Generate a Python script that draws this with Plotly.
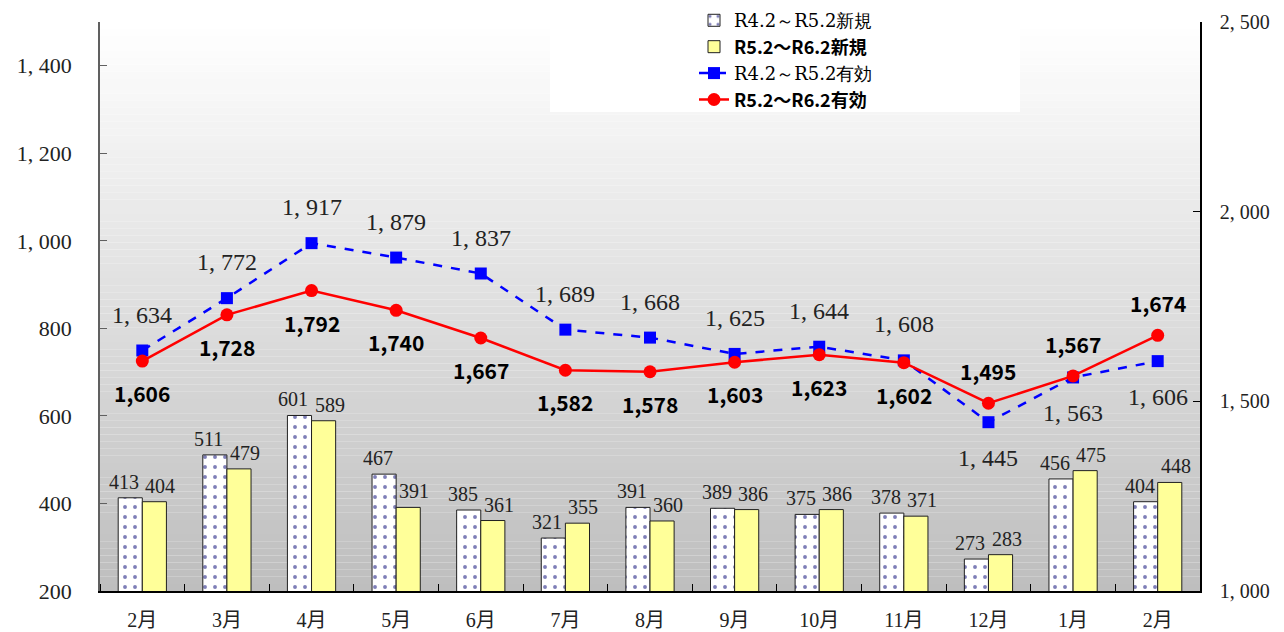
import plotly.graph_objects as go

months = ["2月", "3月", "4月", "5月", "6月", "7月", "8月", "9月", "10月", "11月", "12月", "1月", "2月"]
new_prev = [413, 511, 601, 467, 385, 321, 391, 389, 375, 378, 273, 456, 404]
new_curr = [404, 479, 589, 391, 361, 355, 360, 386, 386, 371, 283, 475, 448]
eff_prev = [1634, 1772, 1917, 1879, 1837, 1689, 1668, 1625, 1644, 1608, 1445, 1563, 1606]
eff_curr = [1606, 1728, 1792, 1740, 1667, 1582, 1578, 1603, 1623, 1602, 1495, 1567, 1674]
# label side: +1 above point, -1 below point
eff_prev_side = [1, 1, 1, 1, 1, 1, 1, 1, 1, 1, -1, -1, -1]
eff_curr_side = [-1, -1, -1, -1, -1, -1, -1, -1, -1, -1, 1, 1, 1]
left_ticks = [200, 400, 600, 800, 1000, 1200, 1400]
right_ticks = [1000, 1500, 2000, 2500]

names = ["R4.2～R5.2新規", "R5.2～R6.2新規", "R4.2～R5.2有効", "R5.2～R6.2有効"]

SERIF = "Liberation Serif, Noto Sans CJK JP, serif"
SANS = "Noto Sans CJK JP, Liberation Sans, sans-serif"

def fmt_serif(v):
    return f"{v:,}".replace(",", ", ")

x = list(range(len(months)))
BARGAP = 0.43
half = (1 - BARGAP) / 4  # offset of each bar centre from category centre

fig = go.Figure()

fig.add_trace(go.Bar(
    x=x, y=new_prev, name=f'<span style="font-family:DejaVu Serif">{names[0]}</span>',
    marker=dict(color="white", line=dict(color="#202020", width=1),
                pattern=dict(shape=".", fgcolor="#000070", bgcolor="white", size=10, solidity=0.12)),
    yaxis="y",
))
fig.add_trace(go.Bar(
    x=x, y=new_curr, name=f'<b>{names[1]}</b>',
    marker=dict(color="#ffff99", line=dict(color="#202020", width=1)),
    yaxis="y",
))
fig.add_trace(go.Scatter(
    x=x, y=eff_prev, name=f'<span style="font-family:DejaVu Serif">{names[2]}</span>',
    mode="lines+markers",
    line=dict(color="#0000ff", width=2.5, dash="dash"),
    marker=dict(symbol="square", size=12, color="#0000ff"),
    yaxis="y2",
))
fig.add_trace(go.Scatter(
    x=x, y=eff_curr, name=f'<b>{names[3]}</b>', mode="lines+markers",
    line=dict(color="#ff0000", width=2.5),
    marker=dict(symbol="circle", size=13, color="#ff0000"),
    yaxis="y2",
))

annotations = []
for i, v in enumerate(new_prev):
    annotations.append(dict(x=x[i] - half, y=v, xref="x", yref="y", text=str(v),
                            showarrow=False, yanchor="bottom", yshift=3, xshift=-6,
                            font=dict(family=SERIF, size=20, color="#222222")))
for i, v in enumerate(new_curr):
    annotations.append(dict(x=x[i] + half, y=v, xref="x", yref="y", text=str(v),
                            showarrow=False, yanchor="bottom", yshift=3, xshift=6,
                            font=dict(family=SERIF, size=20, color="#222222")))
for i, (v, s) in enumerate(zip(eff_prev, eff_prev_side)):
    annotations.append(dict(x=x[i], y=v, xref="x", yref="y2", text=fmt_serif(v),
                            showarrow=False, yshift=36 * s,
                            font=dict(family=SERIF, size=24, color="#222222")))
for i, (v, s) in enumerate(zip(eff_curr, eff_curr_side)):
    annotations.append(dict(x=x[i], y=v, xref="x", yref="y2", text=f"<b>{v:,}</b>",
                            showarrow=False, yshift=32 * s,
                            font=dict(family=SANS, size=21, color="#000000")))

# gradient plot background
shapes = []
n = 80
for k in range(n):
    t = k / (n - 1)
    c = int(round(255 - t * (255 - 190)))
    shapes.append(dict(type="rect", xref="paper", yref="paper",
                       x0=0, x1=1, y0=1 - (k + 1) / n, y1=1 - k / n,
                       fillcolor=f"rgb({c},{c},{c})", line=dict(width=0), layer="below"))
# white area behind the legend
shapes.append(dict(type="rect", xref="paper", yref="paper",
                   x0=(550 - 100) / 1100, x1=(1020 - 100) / 1100, y0=(591 - 112) / 569, y1=1.04,
                   fillcolor="white", line=dict(width=0), layer="below"))

fig.update_layout(
    width=1268, height=624,
    margin=dict(l=92, r=76, t=14, b=41, autoexpand=False),
    paper_bgcolor="white", plot_bgcolor="rgba(0,0,0,0)",
    barmode="group", bargap=BARGAP, bargroupgap=0,
    showlegend=True,
    legend=dict(x=0.54, y=1.035, xanchor="left", yanchor="top",
                bgcolor="rgba(255,255,255,0)", font=dict(family=SANS, size=18, color="#000000"),
                tracegroupgap=0),
    shapes=shapes,
    annotations=annotations,
    xaxis=dict(range=[-0.5, len(months) - 0.5], tickmode="array", tickvals=x, ticktext=months,
               ticks="", showgrid=False, zeroline=False,
               showline=True, linecolor="#000000", linewidth=1.5, ticklabelstandoff=10,
               tickfont=dict(family=SERIF, size=20, color="#222222"),
               minor=dict(ticks="inside", tick0=0.5, dtick=1, ticklen=7, tickcolor="#000000", showgrid=False)),
    yaxis=dict(range=[200, 1500], tickmode="array", tickvals=left_ticks,
               ticktext=[fmt_serif(v) for v in left_ticks],
               ticks="inside", ticklen=7, tickcolor="#606060", showgrid=False, zeroline=False,
               showline=True, linecolor="#606060", linewidth=1.5, ticklabelstandoff=22,
               tickfont=dict(family=SERIF, size=22, color="#222222")),
    yaxis2=dict(range=[1000, 2500], tickmode="array", tickvals=right_ticks,
                ticktext=[fmt_serif(v) for v in right_ticks],
                overlaying="y", side="right",
                ticks="inside", ticklen=7, tickcolor="#000000", showgrid=False, zeroline=False,
                showline=True, linecolor="#000000", linewidth=1.5, ticklabelstandoff=14,
                tickfont=dict(family=SERIF, size=20, color="#222222")),
)

fig.write_html("out.html")
